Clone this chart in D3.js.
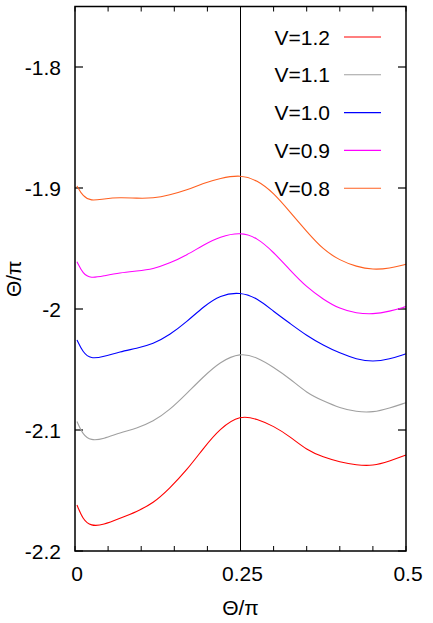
<!DOCTYPE html>
<html>
<head>
<meta charset="utf-8">
<script src="https://cdn.jsdelivr.net/npm/d3@7"></script>
<style>
  body { margin: 0; background: #fff; }
  svg { display: block; font-family: "Liberation Sans", Arial, sans-serif; }
</style>
</head>
<body>
<div id="chart"></div>
<script>
// sample positions along Θ/π
const thetas = [0.003, 0.012, 0.024, 0.043, 0.068, 0.093, 0.118, 0.143, 0.169, 0.194, 0.219,
  0.25, 0.275, 0.30, 0.325, 0.35, 0.375, 0.40, 0.425, 0.45, 0.475, 0.5];

const labels = ["V=1.2", "V=1.1", "V=1.0", "V=0.9", "V=0.8"];
const colors = ["#ff0000", "#a0a0a0", "#0000ff", "#ff00ff", "#ff6020"];

const v12 = [-2.162, -2.174, -2.1795, -2.1785, -2.173, -2.1675, -2.1606, -2.1482, -2.1331, -2.1151, -2.0986,
  -2.0875, -2.091, -2.0967, -2.1055, -2.1165, -2.1225, -2.1264, -2.129, -2.1297, -2.1258, -2.1207];
const v11 = [-2.093, -2.104, -2.1088, -2.1074, -2.1022, -2.0986, -2.0931, -2.0835, -2.0697, -2.056, -2.0436,
  -2.036, -2.040, -2.048, -2.0577, -2.0694, -2.076, -2.0818, -2.085, -2.0855, -2.082, -2.0774];
const v10 = [-2.0256, -2.036, -2.0413, -2.0394, -2.0353, -2.0325, -2.0289, -2.0215, -2.0105, -1.9981, -1.9884,
  -1.986, -1.991, -2.002, -2.012, -2.022, -2.030, -2.0365, -2.0415, -2.0438, -2.0415, -2.037];
const v09 = [-1.961, -1.971, -1.9747, -1.9727, -1.970, -1.9686, -1.967, -1.9622, -1.9554, -1.9471, -1.9402,
  -1.9365, -1.941, -1.953, -1.968, -1.982, -1.992, -2.000, -2.0035, -2.0044, -2.002, -1.998];
const v08 = [-1.8983, -1.907, -1.9107, -1.909, -1.9077, -1.9085, -1.9085, -1.9058, -1.9017, -1.8961, -1.892,
  -1.889, -1.8935, -1.904, -1.920, -1.936, -1.951, -1.9598, -1.965, -1.9676, -1.9665, -1.963];

const series = [v12, v11, v10, v09, v08];

const xTicks = [0, 0.25, 0.5];
const yTicks = [-1.8, -1.9, -2.0, -2.1, -2.2];

const width = 433, height = 623;
const margin = { top: 6.5, right: 27, bottom: 72, left: 75 };
const fontSize = "21px";

const svg = d3.select("#chart")
  .append("svg")
  .attr("width", width)
  .attr("height", height);

const x = d3.scaleLinear().domain([0, 0.5]).range([margin.left, width - margin.right]);
const y = d3.scaleLinear().domain([-2.2, -1.75]).range([height - margin.bottom, margin.top]);

// minor ticks on top and bottom
const minor = d3.range(0, 0.5001, 0.05);
svg.append("g")
  .selectAll("line")
  .data(minor)
  .enter()
  .append("line")
  .attr("x1", (d) => x(d)).attr("x2", (d) => x(d))
  .attr("y1", y(-2.2)).attr("y2", y(-2.2) - 5)
  .attr("stroke", "black").attr("stroke-width", 1);
svg.append("g")
  .selectAll("line")
  .data(minor)
  .enter()
  .append("line")
  .attr("x1", (d) => x(d)).attr("x2", (d) => x(d))
  .attr("y1", y(-1.75)).attr("y2", y(-1.75) + 5)
  .attr("stroke", "black").attr("stroke-width", 1);

// y ticks on both sides
svg.append("g")
  .selectAll("line")
  .data(yTicks)
  .enter()
  .append("line")
  .attr("x1", x(0)).attr("x2", x(0) + 8)
  .attr("y1", (d) => y(d)).attr("y2", (d) => y(d))
  .attr("stroke", "black").attr("stroke-width", 1.2);
svg.append("g")
  .selectAll("line")
  .data(yTicks)
  .enter()
  .append("line")
  .attr("x1", x(0.5)).attr("x2", x(0.5) - 8)
  .attr("y1", (d) => y(d)).attr("y2", (d) => y(d))
  .attr("stroke", "black").attr("stroke-width", 1.2);

// tick labels
svg.append("g")
  .selectAll("text")
  .data(yTicks)
  .enter()
  .append("text")
  .attr("x", x(0) - 14)
  .attr("y", (d) => y(d) + 7.5)
  .attr("text-anchor", "end")
  .style("font-size", fontSize)
  .text((d) => String(d));

svg.append("g")
  .selectAll("text")
  .data(xTicks)
  .enter()
  .append("text")
  .attr("x", (d) => x(d) + 2)
  .attr("y", 581)
  .attr("text-anchor", "middle")
  .style("font-size", fontSize)
  .text((d) => d);

// axis titles
svg.append("text")
  .attr("x", x(0.25))
  .attr("y", 615)
  .attr("text-anchor", "middle")
  .style("font-size", fontSize)
  .text("Θ/π");

svg.append("text")
  .attr("transform", `translate(21, ${y(-1.975)}) rotate(-90)`)
  .attr("text-anchor", "middle")
  .style("font-size", fontSize)
  .text("Θ/π");

// vertical line at 0.25
svg.append("line")
  .attr("x1", x(0.25)).attr("x2", x(0.25))
  .attr("y1", y(-1.75)).attr("y2", y(-2.2))
  .attr("stroke", "black").attr("stroke-width", 1);

// curves
const line = d3.line()
  .x((d, i) => x(thetas[i]))
  .y((d) => y(d))
  .curve(d3.curveBasis);

svg.append("g")
  .selectAll("path")
  .data(series)
  .enter()
  .append("path")
  .attr("d", line)
  .attr("fill", "none")
  .attr("stroke", (d, i) => colors[i])
  .attr("stroke-width", 1.1);

// legend
const legend = svg.append("g");
labels.forEach((lab, i) => {
  const ly = 37 + i * 37.8;
  legend.append("text")
    .attr("x", 330)
    .attr("y", ly + 7.5)
    .attr("text-anchor", "end")
    .style("font-size", fontSize)
    .text(lab);
  legend.append("line")
    .attr("x1", 344).attr("x2", 381)
    .attr("y1", ly).attr("y2", ly)
    .attr("stroke", colors[i])
    .attr("stroke-width", 1.1);
});

// frame
svg.append("rect")
  .attr("x", x(0))
  .attr("y", y(-1.75))
  .attr("width", x(0.5) - x(0))
  .attr("height", y(-2.2) - y(-1.75))
  .attr("fill", "none")
  .attr("stroke", "black")
  .attr("stroke-width", 1.5);
</script>
</body>
</html>
